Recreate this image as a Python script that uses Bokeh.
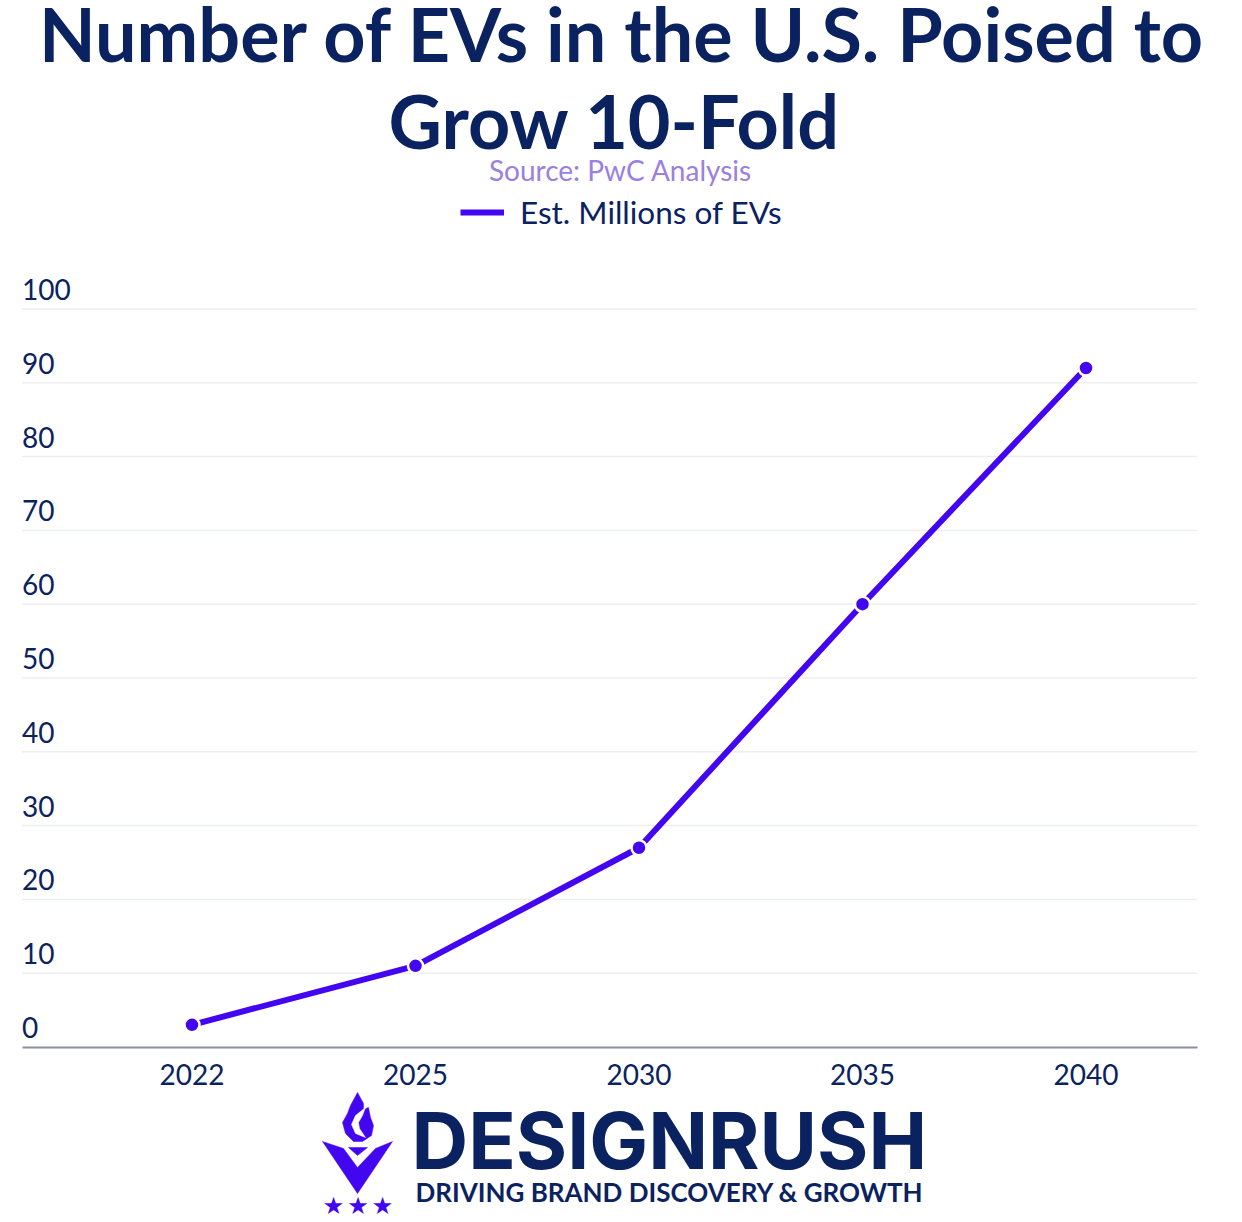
from bokeh.plotting import figure
from bokeh.models import (Range1d, FixedTicker, Label, Legend, LegendItem, PolyAnnotation,
                          ColumnDataSource)
from bokeh.core.properties import value
from bokeh.embed import file_html
from bokeh.resources import INLINE

years = ["2022", "2025", "2030", "2035", "2040"]
evs_millions = [3, 11, 27, 60, 92]
y_ticks = [0, 10, 20, 30, 40, 50, 60, 70, 80, 90, 100]
title_lines = ["Number of EVs in the U.S. Poised to", "Grow 10-Fold"]
source_text = "Source: PwC Analysis"
series_name = "Est. Millions of EVs"
brand = "DESIGNRUSH"
tagline = "DRIVING BRAND DISCOVERY & GROWTH"

NAVY = "#0b2260"
PURPLE = "#4206f0"
FONT = "Lato"

W, H = 1242, 1222
PL, PR, PB = 21.5, 1196.5, 1046.5    # plot area left, right, bottom in page pixels
px_per_unit_y = 7.38
band = 223.5
first_x = 191.5

xs = list(range(len(years)))
x_left = (PL - first_x) / band
x_right = (PR - first_x) / band
p = figure(width=W, height=H, output_backend="svg", toolbar_location=None,
           x_range=Range1d(-first_x / band, (W - first_x) / band),
           y_range=Range1d(-(H - PB) / px_per_unit_y, PB / px_per_unit_y),
           y_axis_location=None,
           min_border_left=0, min_border_right=0, min_border_top=0, min_border_bottom=0)
p.outline_line_color = None
p.background_fill_color = "white"
p.xgrid.visible = False
p.ygrid.visible = False

# gridlines stop short of the page edges, so they are drawn as segments from the tick values
p.segment(x0=[x_left] * (len(y_ticks) - 1), x1=[x_right] * (len(y_ticks) - 1),
          y0=y_ticks[1:], y1=y_ticks[1:], line_color="#eceef0", line_width=1.5)

ax = p.xaxis[0]
ax.fixed_location = 0
ax.bounds = (x_left, x_right)
ax.ticker = FixedTicker(ticks=xs)
ax.major_label_overrides = {i: y for i, y in enumerate(years)}
ax.axis_line_color = "#8a8f9c"
ax.axis_line_width = 2
ax.major_tick_line_color = None
ax.minor_tick_line_color = None
ax.major_label_text_font = FONT
ax.major_label_text_font_size = "28px"
ax.major_label_text_color = NAVY
ax.major_label_standoff = 11

# y labels sit on top of their gridlines at the plot area's left edge
src = ColumnDataSource(dict(x=[x_left] * len(y_ticks), y=y_ticks, t=[str(v) for v in y_ticks]))
p.text("x", "y", "t", source=src, text_font=value(FONT), text_font_size="28px", text_color=NAVY,
       text_baseline="bottom", text_align="left", y_offset=-9)

ln = p.line(xs, evs_millions, line_color=PURPLE, line_width=6)
p.scatter(xs, evs_millions, size=15, fill_color=PURPLE, line_color="white", line_width=2.5)

leg = Legend(items=[LegendItem(label=series_name, renderers=[ln])],
             location=(460, H - 231), border_line_color=None,
             background_fill_alpha=0, glyph_width=44, glyph_height=24, label_text_font=FONT,
             label_text_font_size="31.5px", label_text_color=NAVY, label_standoff=16,
             margin=0, padding=0)
p.add_layout(leg)


def label(text, cx, cy, size, color, weight="normal", font=FONT, align="center"):
    p.add_layout(Label(x=cx, y=H - cy, x_units="screen", y_units="screen", text=text,
                       text_font=font, text_font_size=f"{size}px", text_color=color,
                       text_font_style=weight, text_align=align, text_baseline="middle"))


label(title_lines[0], 622, 33, 73.7, NAVY, "bold")
label(title_lines[1], 614, 120, 73.7, NAVY, "bold")
label(source_text, 620, 169, 28, "#9a80e0")
label(brand, 411, 1140, 78.5, NAVY, "bold", font="Inter", align="left")
label(tagline, 415, 1191, 26, NAVY, "bold", align="left")
for sx in (333, 357.5, 382):
    label("★", sx, 1205, 24, PURPLE, font="DejaVu Sans")


def poly(pts, color):
    p.add_layout(PolyAnnotation(xs=[a for a, b in pts], ys=[H - b for a, b in pts],
                                xs_units="screen", ys_units="screen", fill_color=color, fill_alpha=1,
                                line_color=color, line_width=0.5, line_alpha=1))


poly([(322, 1141), (343, 1148), (357, 1167), (375, 1148), (392, 1141), (357, 1193)], PURPLE)
poly([(348, 1147), (367, 1147), (357, 1155)], PURPLE)
poly([(357, 1092), (363, 1103), (363, 1109), (368, 1107), (370, 1117), (373, 1125), (371, 1135),
      (362, 1141), (353, 1141), (345, 1133), (342, 1122), (347, 1113), (350, 1105)], PURPLE)
poly([(365, 1107), (355, 1115), (351, 1124), (355, 1133), (365, 1137), (359, 1128), (358, 1122),
      (362, 1115)], "white")

open("out.html", "w").write(file_html(p, INLINE))
